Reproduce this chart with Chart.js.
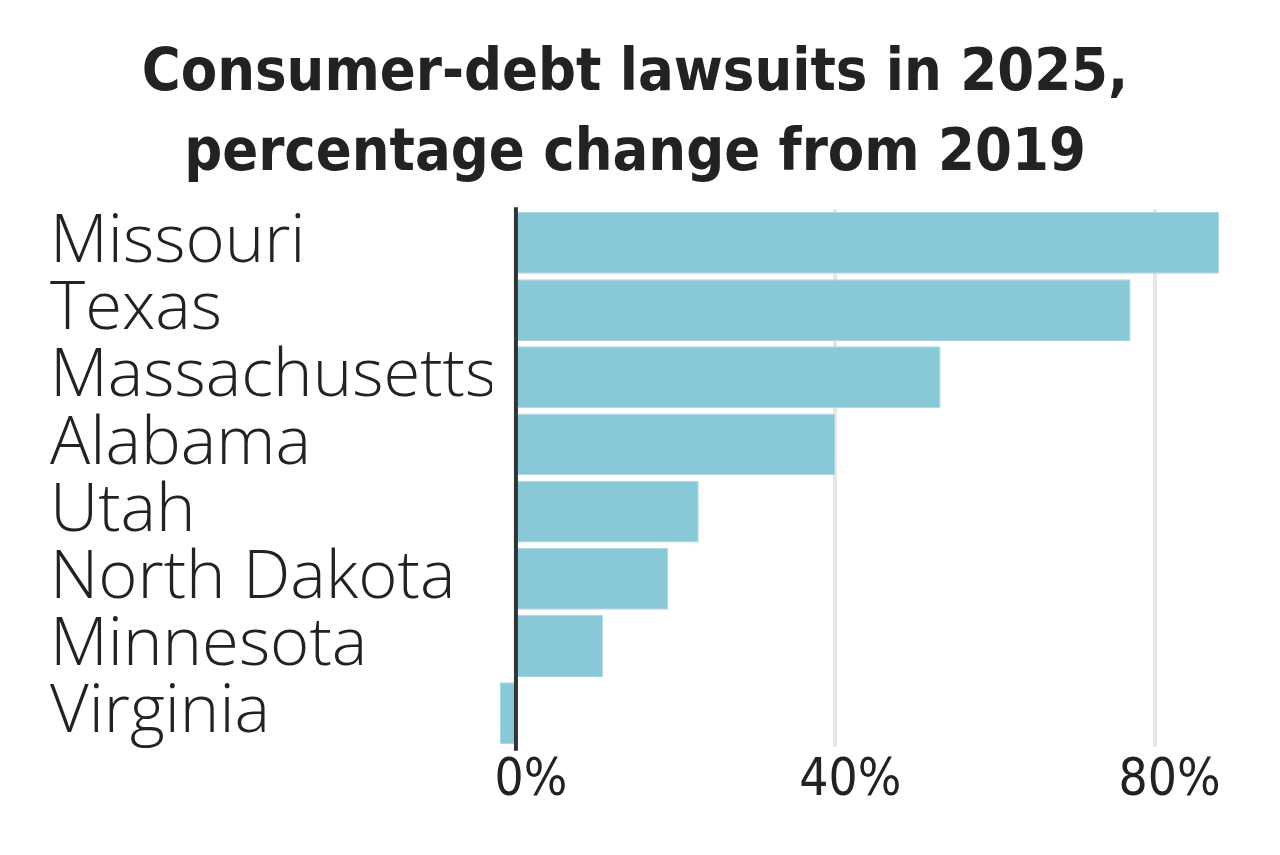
<!DOCTYPE html>
<html>
<head>
<meta charset="utf-8">
<title>Consumer-debt lawsuits</title>
<script src="https://cdn.jsdelivr.net/npm/chart.js@4.4.1/dist/chart.umd.min.js"></script>
<style>
  html, body { margin: 0; padding: 0; background: #ffffff; }
  #chart-wrap { width: 1280px; height: 855px; }
</style>
</head>
<body>
<div id="chart-wrap"><canvas id="lawsuit-chart" width="1280" height="855"></canvas></div>
<script>
// Data
const states = ['Missouri', 'Texas', 'Massachusetts', 'Alabama', 'Utah', 'North Dakota', 'Minnesota', 'Virginia'];
const pctChange = [88.1, 77.0, 53.2, 40.0, 22.9, 19.1, 10.9, -2.0];
const xTicks = [0, 40, 80];
const titleLines = ['Consumer-debt lawsuits in 2025,', 'percentage change from 2019'];

const narrowFont = "'Liberation Sans Narrow', 'DejaVu Sans Condensed', sans-serif";
const labelFont = "'Open Sans', 'Noto Sans', sans-serif";

// draws the dark 0% line on top of the bars
const zeroLine = {
  id: 'zeroLine',
  afterDatasetsDraw(chart) {
    const { ctx, chartArea, scales } = chart;
    const x = scales.x.getPixelForValue(0);
    ctx.save();
    ctx.strokeStyle = '#333333';
    ctx.lineWidth = 4;
    ctx.beginPath();
    ctx.moveTo(x, chartArea.top - 2);
    ctx.lineTo(x, chartArea.bottom + 4);
    ctx.stroke();
    ctx.restore();
  }
};

function initChart() {
  const ctx = document.getElementById('lawsuit-chart').getContext('2d');

  new Chart(ctx, {
    type: 'bar',
    data: {
      labels: states,
      datasets: [{
        data: pctChange,
        backgroundColor: '#89c8d7',
        borderColor: '#a9d8e3',
        borderWidth: 1,
        barPercentage: 0.92,
        categoryPercentage: 1
      }]
    },
    options: {
      indexAxis: 'y',
      responsive: false,
      animation: false,
      layout: {
        padding: { left: 50, right: 60, top: 0, bottom: 39 }
      },
      plugins: {
        legend: { display: false },
        tooltip: { enabled: false },
        title: {
          display: true,
          text: titleLines,
          color: '#222222',
          font: { family: narrowFont, size: 59, weight: 'bold', lineHeight: 1.35 },
          padding: { top: 35, bottom: 15 }
        }
      },
      scales: {
        x: {
          type: 'linear',
          min: -3,
          max: 88.2,
          afterBuildTicks: (scale) => {
            scale.ticks = xTicks.map(v => ({ value: v }));
          },
          border: { display: false },
          grid: {
            drawTicks: false,
            lineWidth: 4,
            color: (c) => c.tick && c.tick.value === 0 ? 'rgba(0,0,0,0)' : '#e6e6e6'
          },
          ticks: {
            padding: 4,
            labelOffset: 15,
            color: '#222222',
            font: { family: narrowFont, size: 51 },
            callback: (v) => v + '%'
          }
        },
        y: {
          border: { display: false },
          grid: { display: false, drawTicks: false },
          afterFit: (scale) => { scale.width = 442; },
          ticks: {
            autoSkip: false,
            crossAlign: 'far',
            padding: 0,
            color: '#222222',
            font: { family: labelFont, size: 67, weight: 300 }
          }
        }
      }
    },
    plugins: [zeroLine]
  });
}

document.addEventListener('DOMContentLoaded', () => {
  initChart();
});
</script>
</body>
</html>
